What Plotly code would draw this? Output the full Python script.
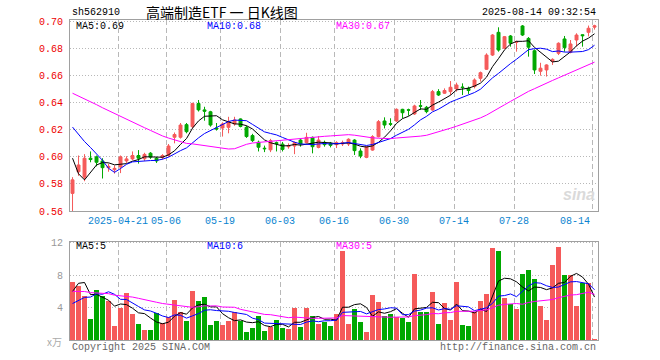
import plotly.graph_objects as go

# ---------------- data ----------------
opens = [0.573, 0.589, 0.585, 0.599, 0.600, 0.597, 0.592, 0.5905, 0.5925, 0.597,
         0.5985, 0.601, 0.5986, 0.6027, 0.599, 0.5995, 0.601, 0.6145, 0.6145, 0.6238,
         0.6223, 0.6394, 0.6347, 0.6333, 0.6213, 0.6213, 0.6218, 0.6243, 0.628, 0.6218,
         0.6157, 0.6108, 0.6064, 0.6052, 0.6105, 0.6094, 0.6075, 0.608, 0.6124, 0.6105,
         0.6144, 0.607, 0.6107, 0.610, 0.609, 0.6095, 0.6095, 0.6124, 0.6043, 0.5996,
         0.605, 0.6149, 0.6265, 0.6245, 0.6265, 0.6351, 0.6348, 0.6317, 0.6378, 0.6366,
         0.6346, 0.6482, 0.647, 0.6482, 0.6502, 0.6516, 0.6506, 0.6519, 0.658, 0.6647,
         0.6752, 0.692, 0.6802, 0.6893, 0.6846, 0.6967, 0.6875, 0.6784, 0.6632, 0.6642,
         0.6705, 0.6765, 0.6871, 0.6772, 0.6863, 0.6902, 0.692, 0.6958]
highs = [0.585, 0.601, 0.602, 0.604, 0.601, 0.599, 0.595, 0.5937, 0.601, 0.6005,
         0.604, 0.605, 0.603, 0.6035, 0.600, 0.602, 0.6095, 0.618, 0.625, 0.625,
         0.640, 0.642, 0.637, 0.634, 0.625, 0.6255, 0.6296, 0.6296, 0.6284, 0.623,
         0.617, 0.612, 0.6083, 0.6133, 0.6113, 0.611, 0.610, 0.6113, 0.6131, 0.6178,
         0.615, 0.6154, 0.612, 0.611, 0.6115, 0.612, 0.6137, 0.613, 0.6063, 0.608,
         0.616, 0.6272, 0.6292, 0.6285, 0.6358, 0.6355, 0.6356, 0.6385, 0.642, 0.6376,
         0.6494, 0.650, 0.6506, 0.656, 0.6548, 0.6543, 0.6519, 0.658, 0.663, 0.6765,
         0.6907, 0.6957, 0.6893, 0.690, 0.6858, 0.6974, 0.6885, 0.6794, 0.6695, 0.6684,
         0.6728, 0.6846, 0.6893, 0.6863, 0.6913, 0.6905, 0.697, 0.6976]
lows = [0.560, 0.586, 0.582, 0.596, 0.593, 0.584, 0.589, 0.5876, 0.588, 0.5955,
        0.5975, 0.595, 0.597, 0.5985, 0.5955, 0.598, 0.600, 0.610, 0.6135, 0.6174,
        0.621, 0.6335, 0.6267, 0.6223, 0.6194, 0.615, 0.6174, 0.623, 0.6218, 0.614,
        0.611, 0.604, 0.6035, 0.6035, 0.604, 0.604, 0.606, 0.602, 0.6075, 0.610,
        0.6026, 0.6063, 0.6075, 0.607, 0.6065, 0.608, 0.608, 0.6014, 0.599, 0.599,
        0.6045, 0.6144, 0.621, 0.6228, 0.6258, 0.6285, 0.6304, 0.631, 0.6346, 0.6322,
        0.6341, 0.645, 0.6465, 0.6457, 0.6482, 0.6457, 0.6465, 0.6506, 0.6556, 0.6642,
        0.6745, 0.6777, 0.6794, 0.6814, 0.6777, 0.6893, 0.674, 0.6612, 0.660, 0.6593,
        0.6679, 0.6752, 0.6777, 0.6765, 0.6814, 0.6814, 0.689, 0.694]
closes = [0.583, 0.594, 0.599, 0.598, 0.596, 0.592, 0.593, 0.5915, 0.600, 0.5985,
          0.601, 0.599, 0.6018, 0.5998, 0.597, 0.601, 0.608, 0.6165, 0.6235, 0.6186,
          0.6394, 0.6347, 0.6337, 0.6235, 0.6206, 0.6243, 0.6262, 0.6272, 0.6225, 0.615,
          0.612, 0.6071, 0.606, 0.612, 0.6098, 0.6055, 0.608, 0.6105, 0.6095, 0.6144,
          0.6075, 0.6124, 0.609, 0.6085, 0.6105, 0.6105, 0.613, 0.6046, 0.6006, 0.6075,
          0.6149, 0.626, 0.6235, 0.6241, 0.6351, 0.6326, 0.6345, 0.6376, 0.6374, 0.6334,
          0.6482, 0.6457, 0.649, 0.6514, 0.6531, 0.6512, 0.649, 0.6568, 0.6622, 0.6752,
          0.690, 0.6789, 0.6888, 0.6839, 0.6851, 0.690, 0.681, 0.6642, 0.6655, 0.6679,
          0.672, 0.6839, 0.6807, 0.6834, 0.690, 0.6895, 0.695, 0.6968]
volumes = [7.17, 6.76, 5.44, 2.60, 6.19, 5.49, 4.83, 1.74, 3.96, 5.81,
           3.26, 1.99, 1.25, 1.25, 3.35, 2.19, 2.93, 4.95, 3.47, 2.36,
           6.06, 4.83, 5.32, 1.86, 2.36, 1.86, 2.36, 3.47, 2.36, 1.00,
           1.49, 2.97, 1.12, 1.62, 2.48, 1.49, 1.37, 3.96, 1.62, 3.96,
           2.97, 1.99, 2.23, 1.74, 3.26, 11.0, 1.99, 3.84, 2.23, 1.00,
           5.57, 4.70, 2.98, 3.22, 2.85, 2.73, 2.23, 8.16, 3.47, 3.47,
           5.94, 1.99, 4.58, 2.48, 7.17, 1.86, 1.74, 3.47, 4.83, 5.69,
           11.37, 11.0, 5.20, 4.46, 3.84, 8.16, 8.65, 7.54, 4.21, 2.48,
           9.27, 11.49, 8.04, 8.04, 4.21, 7.05, 7.05, 0.14]
# sessions before the visible window (needed for the moving averages)
prior_closes = [0.655, 0.658, 0.662, 0.665, 0.661, 0.657, 0.660, 0.664, 0.668, 0.663,
                0.659, 0.656, 0.660, 0.662, 0.658, 0.655, 0.657, 0.661, 0.659, 0.650,
                0.652, 0.648, 0.642, 0.640, 0.643, 0.6515, 0.6215, 0.572, 0.567]
prior_volumes = [5.8, 7.2, 6.5, 8.1, 6.9, 5.5, 7.4, 6.2, 7.8, 6.0,
                 6.6, 7.0, 5.9, 7.5, 6.8, 6.3, 7.1, 6.4, 7.3, 6.9,
                 2.5, 2.1, 2.2, 2.16, 6.04, 1.76, 4.94, 10.1, 6.0]
tick_index = [8, 16, 25, 35, 44, 54, 64, 74, 87]
tick_labels = ["2025-04-21", "05-06", "05-19", "06-03", "06-16", "06-30", "07-14", "07-28", "08-14"]
price_ticks = [0.56, 0.58, 0.60, 0.62, 0.64, 0.66, 0.68, 0.70]
volume_ticks = [4, 8, 12]
code = "sh562910"
title = "高端制造ETF 一 日K线图"
stamp = "2025-08-14 09:32:54"

# ---------------- helpers ----------------
RED = "#f55a5a"
GREEN = "#00a800"
GRID = "#b8b8b8"
FRAME = "#a0a0a0"
MONO = "Liberation Mono, DejaVu Sans Mono, monospace"
L, R, T, B = 70, 62, 20, 20
W, H = 660, 360
PW, PH = W - L - R, H - T - B

def px(xp):
    return (xp - L) / PW

def py(yp):
    return (H - B - yp) / PH

def moving(series, prior, n):
    full = list(prior) + list(series)
    k = len(prior)
    out = []
    for i in range(len(series)):
        seg = full[k + i - n + 1:k + i + 1]
        out.append(sum(seg) / len(seg))
    return out

n = len(closes)
x = list(range(n))
up = [c >= o for o, c in zip(opens, closes)]
bar_colors = [RED if u else GREEN for u in up]

fig = go.Figure()
fig.add_trace(go.Candlestick(
    x=x, open=opens, high=highs, low=lows, close=closes,
    increasing=dict(line=dict(color=RED, width=1), fillcolor=RED),
    decreasing=dict(line=dict(color=GREEN, width=1), fillcolor=GREEN),
    whiskerwidth=0, hoverinfo="skip", showlegend=False, xaxis="x", yaxis="y"))
for nma, col in [(5, "#000000"), (10, "#0000ff"), (30, "#ff00ff")]:
    fig.add_trace(go.Scatter(x=x, y=moving(closes, prior_closes, nma), mode="lines",
                             line=dict(color=col, width=1), hoverinfo="skip",
                             showlegend=False, xaxis="x", yaxis="y"))
fig.add_trace(go.Bar(x=x, y=volumes, marker=dict(color=bar_colors, line=dict(width=0)),
                     width=0.8, hoverinfo="skip", showlegend=False, xaxis="x2", yaxis="y2"))
for nma, col in [(5, "#000000"), (10, "#0000ff"), (30, "#ff00ff")]:
    fig.add_trace(go.Scatter(x=x, y=moving(volumes, prior_volumes, nma), mode="lines",
                             line=dict(color=col, width=1), hoverinfo="skip",
                             showlegend=False, xaxis="x2", yaxis="y2"))

xr = [-0.42, n - 0.42]
grid_x = [t - 0.42 for t in tick_index]
xcommon = dict(range=xr, tickvals=grid_x, showticklabels=False, ticks="",
               showgrid=True, gridcolor=GRID, griddash="5px,3px", gridwidth=1,
               showline=True, mirror=True, linecolor=FRAME, linewidth=1,
               zeroline=False, fixedrange=True)

ma5 = moving(closes, prior_closes, 5)[-1]
ma10 = moving(closes, prior_closes, 10)[-1]
ma30 = moving(closes, prior_closes, 30)[-1]
vma5 = int(moving(volumes, prior_volumes, 5)[-1])
vma10 = int(moving(volumes, prior_volumes, 10)[-1])
vma30 = int(moving(volumes, prior_volumes, 30)[-1])

ann = []
def text(s, xp, yp, color="#000", size=10, anchor="left", family=MONO, **kw):
    ann.append(dict(text=s, x=px(xp), y=py(yp), xref="paper", yref="paper",
                    xanchor=anchor, yanchor="middle", showarrow=False,
                    font=dict(family=family, size=size, color=color), **kw))

text(code, 70, 13)
text(title, 222, 12, size=14, anchor="center", family="Noto Sans CJK SC")
text(stamp, 598, 13, anchor="right")
text("MA5:%.2f" % ma5, 74, 26)
text("MA10:%.2f" % ma10, 205, 26, color="#0000ff")
text("MA30:%.2f" % ma30, 334, 26, color="#ff00ff")
text("MA5:%d" % vma5, 74, 246)
text("MA10:%d" % vma10, 205, 246, color="#0000ff")
text("MA30:%d" % vma30, 334, 246, color="#ff00ff")
text("x万", 64, 341, color="#aaaaaa", size=10, anchor="right", family="Noto Sans CJK SC")
text("Copyright 2025 SINA.COM", 70, 347, color="#666666")
text("http://finance.sina.com.cn", 598, 347, color="#666666", anchor="right")
text("<b><i>sina</i></b>", 597, 194, color="#dadada", size=16, anchor="right",
     family="Liberation Sans, Arial, sans-serif")
for t, lab in zip(tick_index, tick_labels):
    last = t == tick_index[-1]
    ann.append(dict(text=lab, x=t - 0.42, y=py(221), xref="x", yref="paper",
                    xanchor="right" if last else "center", yanchor="middle",
                    showarrow=False, font=dict(family=MONO, size=10, color="#0a84d0")))

fig.update_layout(
    width=W, height=H, margin=dict(l=L, r=R, t=T, b=B, pad=0),
    paper_bgcolor="white", plot_bgcolor="white", showlegend=False,
    bargap=0, hovermode=False,
    xaxis=dict(domain=[0, 1], anchor="y", rangeslider=dict(visible=False), **xcommon),
    xaxis2=dict(domain=[0, 1], anchor="y2", matches="x", **xcommon),
    yaxis=dict(domain=[py(211), 1], range=[0.56, 0.7011], tickvals=price_ticks,
               ticktext=["%.2f" % v for v in price_ticks], ticks="", ticklabelstandoff=4,
               tickfont=dict(family=MONO, size=10, color="#ee0000"),
               showgrid=True, gridcolor=GRID, griddash="1px,2px",
               showline=True, mirror=True, linecolor=FRAME, zeroline=False, fixedrange=True),
    yaxis2=dict(domain=[0, py(241.5)], range=[0, 12.15], tickvals=volume_ticks,
                ticks="", ticklabelstandoff=4,
                tickfont=dict(family=MONO, size=10, color="#999999"),
                showgrid=True, gridcolor=GRID, griddash="1px,2px",
                showline=True, mirror=True, linecolor=FRAME, zeroline=False, fixedrange=True),
    annotations=ann,
)

fig.write_html("out.html", config={"displayModeBar": False},
               post_script="document.body.style.margin='0px';document.body.style.overflow='hidden';")
